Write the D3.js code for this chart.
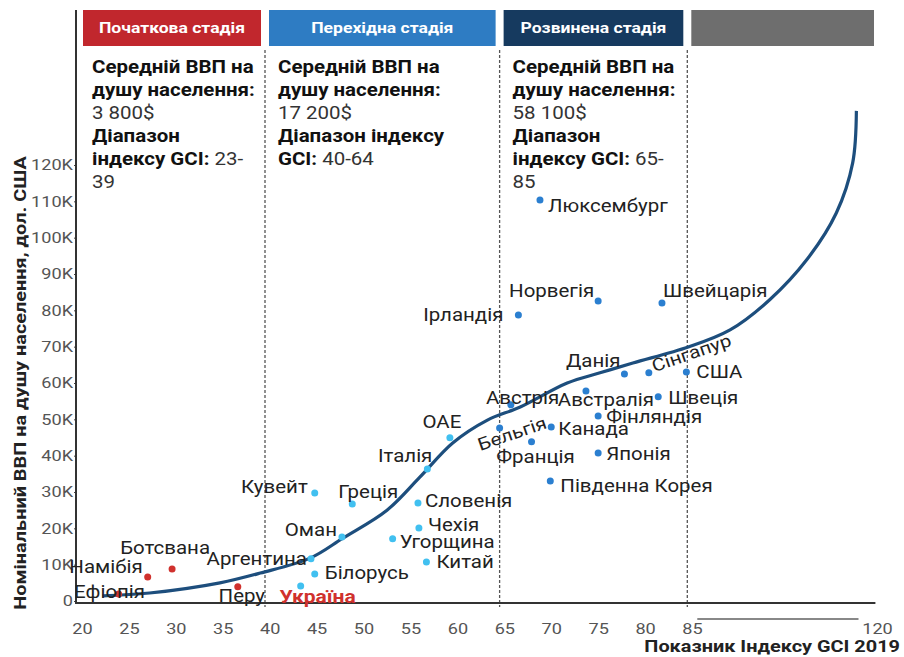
<!DOCTYPE html>
<html>
<head>
<meta charset="utf-8">
<script src="https://cdn.jsdelivr.net/npm/d3@7"></script>
<style>
body{margin:0;background:#fff;}
text{font-family:Roboto,"Noto Sans",sans-serif;}
</style>
</head>
<body>
<script>
// stages: name, GCI range, colour of header, avg GDP, text for range
const stageNames = ["Початкова стадія","Перехідна стадія","Розвинена стадія",""];
const stageRanges = [[20,39.5],[39.5,64.5],[64.5,84.5],[84.5,120]];
const stageColors = ["#c1272d","#2e7cc3","#163a5f","#6e6e6e"];
const stageGdp = ["3 800$","17 200$","58 100$"];
const stageGci = ["23-39","40-64","65-85"];

// countries: name, GCI 2019, GDP per capita (K USD), stage index
const countries = ["Ефіопія","Намібія","Ботсвана","Перу","Україна","Аргентина","Білорусь","Оман","Кувейт","Греція","Словенія","Чехія","Угорщина","Китай","Італія","ОАЕ","Бельгія","Австрія","Франція","Канада","Австралія","Данія","Сінгапур","США","Швеція","Фінляндія","Японія","Південна Корея","Ірландія","Норвегія","Швейцарія","Люксембург"];
const gci = [23.9,27.0,29.6,36.6,43.3,44.4,44.8,47.7,44.8,48.8,55.8,55.9,53.1,56.7,56.8,59.2,64.5,65.7,67.9,70.0,73.7,77.8,80.4,84.4,81.4,75.0,75.0,69.9,66.5,75.0,81.8,68.8];
const gdp = [1.9,6.6,8.8,3.9,4.1,11.6,7.4,17.6,29.7,26.7,27.0,20.1,17.1,10.7,36.3,44.9,47.6,54.0,43.8,47.9,57.8,62.5,62.8,63.0,56.2,50.9,40.7,33.0,78.7,82.6,82.0,110.4];
const stage = [0,0,0,0,1,1,1,1,1,1,1,1,1,1,1,1,2,2,2,2,2,2,2,2,2,2,2,2,2,2,2,2];

// trend curve
const trendGci = [22.2,27.2,34.7,39.0,44.3,47.8,52.5,56.0,59.5,63.2,66.7,71.7,75.2,78.7,84.6,92.2,99.7,106.7,112.3,115.4,116.1];
const trendGdp = [1.4,2.2,5.0,7.7,11.8,17.3,25.0,34.1,43.5,49.8,53.4,60.0,62.8,65.5,69.9,74.6,82.9,93.9,106.8,120.6,134.9];

const xTicks = [20,25,30,35,40,45,50,55,60,65,70,75,80,85,120];
const yTicks = [0,10,20,30,40,50,60,70,80,90,100,110,120];

// label placement: [anchor, dx, dy, rotate]
const labelPos = {
  "Ефіопія":["middle",-9,-1,0],"Намібія":["end",-5,-9,0],"Ботсвана":["middle",-7,-20,0],
  "Перу":["middle",4,11,0],"Україна":["middle",17,12,0],"Аргентина":["end",-4,2,0],
  "Білорусь":["start",10,0,0],"Оман":["end",-5,-6,0],"Кувейт":["end",-7,-5,0],
  "Греція":["start",-14,-11,0],"Словенія":["start",7,-1,0],"Чехія":["start",9,-2,0],
  "Угорщина":["start",7,5,0],"Китай":["start",10,1,0],"Італія":["end",5,-12,0],
  "ОАЕ":["middle",-8,-14,0],"Бельгія":["middle",13,7,-19],"Австрія":["start",-25,-5,0],
  "Франція":["middle",4,17,0],"Канада":["start",7,3,0],"Австралія":["middle",20,10,0],
  "Данія":["end",-4,-12,0],"Сінгапур":["start",4,-5,-19],"США":["start",10,1,0],
  "Швеція":["start",10,3,0],"Фінляндія":["start",8,2,0],"Японія":["start",8,2,0],
  "Південна Корея":["start",10,6,0],"Ірландія":["end",-15,1,0],"Норвегія":["end",-4,-9,0],
  "Швейцарія":["start",1,-11,0],"Люксембург":["start",8,7,0]
};
const dotColors = ["#d0312d","#41c0f0","#2b7fd0"];

const W = 904, H = 657;
const SX = 1.17; // text in the picture is drawn a bit wide
const svg = d3.select("body").append("svg").attr("width",W).attr("height",H);

const x = d3.scaleLinear().domain([20,85,120]).range([82,692,877]);
const y = d3.scaleLinear().domain([0,120]).range([601,165]);
const axisX = 76, axisY = 603;

// header boxes
stageNames.forEach(function(name,i){
  const x0 = x(stageRanges[i][0]) + (i===0 ? 1 : 4);
  const x1 = x(stageRanges[i][1]) - (i===3 ? 3 : 4);
  svg.append("rect").attr("x",x0).attr("y",10).attr("width",x1-x0).attr("height",36)
    .attr("fill",stageColors[i]);
  if(name){
    svg.append("text").attr("transform","translate("+((x0+x1)/2)+",29) scale("+SX+",1)")
      .attr("text-anchor","middle")
      .attr("dominant-baseline","middle").attr("fill","#fff").attr("font-size",15)
      .attr("font-weight","bold").text(name);
  }
});

// dashed dividers
stageRanges.slice(1).forEach(function(r){
  svg.append("line").attr("x1",x(r[0])).attr("x2",x(r[0])).attr("y1",50).attr("y2",axisY+4)
    .attr("stroke","#555").attr("stroke-width",1.3).attr("stroke-dasharray","3,2");
});

// stage text blocks
function block(i, lines){
  const tx = x(stageRanges[i][0]) + (i===0 ? 10 : 13);
  lines.forEach(function(parts,k){
    const t = svg.append("text").attr("transform","translate("+tx+","+(68+k*23)+") scale("+SX+",1)")
      .attr("dominant-baseline","middle")
      .attr("font-size",17.5).attr("fill","#222");
    parts.forEach(function(p){
      t.append("tspan").attr("font-weight",p[1]?"bold":"normal").attr("fill",p[1]?"#111":"#333").text(p[0]);
    });
  });
}
const g0 = stageGci[0].split("-"), g2 = stageGci[2].split("-");
block(0,[[["Середній ВВП на",1]],[["душу населення:",1]],[[stageGdp[0],0]],[["Діапазон",1]],[["індексу GCI:",1],[" "+g0[0]+"-",0]],[[g0[1],0]]]);
block(1,[[["Середній ВВП на",1]],[["душу населення:",1]],[[stageGdp[1],0]],[["Діапазон індексу",1]],[["GCI:",1],[" "+stageGci[1],0]]]);
block(2,[[["Середній ВВП на",1]],[["душу населення:",1]],[[stageGdp[2],0]],[["Діапазон",1]],[["індексу GCI:",1],[" "+g2[0]+"-",0]],[[g2[1],0]]]);

// axes
const yAxis = svg.append("g").attr("transform","translate("+axisX+",0)")
  .call(d3.axisLeft(y).tickValues(yTicks).tickSize(2).tickPadding(1)
    .tickFormat(function(d){return d===0?"0":d+"K";}));
yAxis.select(".domain").remove();
yAxis.selectAll("text").attr("font-size",15.5).attr("fill","#555").attr("font-family","Roboto,sans-serif")
  .attr("x",null).attr("transform","translate(-3,0) scale("+SX+",1)");
yAxis.selectAll("line").attr("stroke","#444");

const xAxis = svg.append("g").attr("transform","translate(0,"+axisY+")")
  .call(d3.axisBottom(x).tickValues(xTicks).tickSize(0).tickPadding(20));
xAxis.select(".domain").remove();
xAxis.selectAll("text").attr("font-size",15.5).attr("fill","#555").attr("font-family","Roboto,sans-serif")
  .attr("y",null).attr("dy",null).attr("dominant-baseline","middle")
  .attr("transform","translate(0,27) scale("+SX+",1)");

svg.append("line").attr("x1",axisX).attr("x2",axisX).attr("y1",10).attr("y2",axisY+1)
  .attr("stroke","#333").attr("stroke-width",2);
svg.append("line").attr("x1",axisX-1).attr("x2",x(119.7)).attr("y1",axisY).attr("y2",axisY)
  .attr("stroke","#333").attr("stroke-width",2);
// axis break line
svg.append("line").attr("x1",x(86)).attr("x2",x(116.5)).attr("y1",619).attr("y2",619)
  .attr("stroke","#888").attr("stroke-width",2);

// axis titles
svg.append("text").attr("transform","translate(22,"+y(60)+") rotate(-90) scale("+SX+",1)")
  .attr("text-anchor","middle").attr("dominant-baseline","middle")
  .attr("font-size",17).attr("font-weight","bold").attr("fill","#222")
  .text("Номінальний ВВП на душу населення, дол. США");
svg.append("text").attr("transform","translate(900,648) scale("+SX+",1)").attr("text-anchor","end")
  .attr("dominant-baseline","middle").attr("font-size",17).attr("font-weight","bold").attr("fill","#222")
  .text("Показник Індексу GCI 2019");

// trend curve
const trend = trendGci.map(function(d,i){return [d,trendGdp[i]];});
svg.append("path").datum(trend)
  .attr("d",d3.line().x(function(d){return x(d[0]);}).y(function(d){return y(d[1]);}).curve(d3.curveCatmullRom))
  .attr("fill","none").attr("stroke","#1d4e7d").attr("stroke-width",3.2);

// points
const pts = countries.map(function(c,i){return {name:c,gci:gci[i],gdp:gdp[i],stage:stage[i]};});
svg.append("g").selectAll("circle").data(pts).join("circle")
  .attr("cx",function(d){return x(d.gci);})
  .attr("cy",function(d){return y(d.gdp);})
  .attr("r",3.5)
  .attr("fill",function(d){return dotColors[d.stage];});

svg.append("g").selectAll("text").data(pts).join("text")
  .attr("transform",function(d){
    const p = labelPos[d.name];
    return "translate("+(x(d.gci)+p[1])+","+(y(d.gdp)+p[2])+") rotate("+p[3]+") scale("+SX+",1)";
  })
  .attr("text-anchor",function(d){return labelPos[d.name][0];})
  .attr("dominant-baseline","middle")
  .attr("font-size",function(d){return d.name==="Україна"?18:17.5;})
  .attr("font-weight",function(d){return d.name==="Україна"?"bold":"normal";})
  .attr("fill",function(d){return d.name==="Україна"?"#d0312d":"#222";})
  .text(function(d){return d.name;});
</script>
</body>
</html>
